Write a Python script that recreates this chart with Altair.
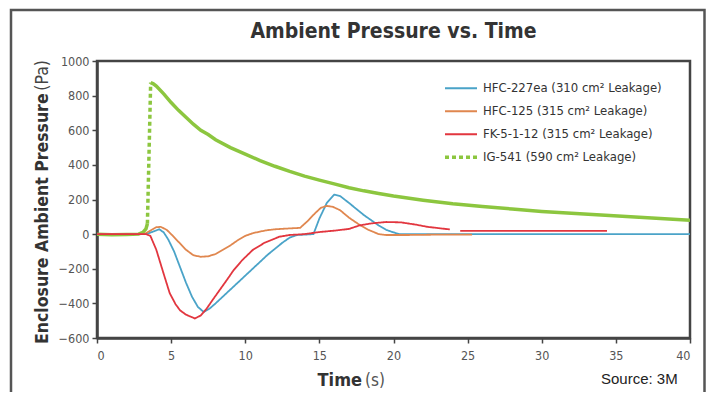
import altair as alt
import pandas as pd

# ---------------- data ----------------
series_names = [
    "HFC-227ea (310 cm² Leakage)",
    "HFC-125 (315 cm² Leakage)",
    "FK-5-1-12 (315 cm² Leakage)",
    "IG-541 (590 cm² Leakage)",
]
series_colors = ["#4aa3c8", "#e0874f", "#e2363f", "#8cc63f"]

hfc227_t = [0, 3.3, 3.8, 4.2, 4.5, 4.8, 5.2, 5.6, 6.0, 6.4, 6.8, 7.2, 7.6, 8.0, 8.5, 9.0, 9.5,
            10.0, 10.5, 11.0, 11.5, 12.0, 12.5, 13.0, 13.5, 14.6, 15.0, 15.5, 16.0, 16.4, 17.0,
            17.5, 18.0, 18.5, 19.0, 19.5, 20.0, 20.4, 30.0, 40.0]
hfc227_p = [0, 0, 15, 28, 10, -30, -100, -190, -280, -360, -420, -450, -430, -400, -360, -320, -280,
            -240, -200, -160, -120, -85, -50, -20, -5, 0, 90, 180, 228, 220, 180,
            145, 110, 80, 50, 25, 10, 0, 0, 0]

hfc125_t = [0, 3.2, 3.6, 4.0, 4.3, 4.7, 5.0, 5.5, 6.0, 6.5, 7.0, 7.5, 8.0, 8.5, 9.0, 9.5, 10.0,
            10.5, 11.0, 11.5, 12.0, 13.0, 13.7, 14.2, 14.7, 15.1, 15.5, 15.9, 16.4, 17.0, 17.6,
            18.3, 19.0, 19.5, 21.0, 23.0, 25.3]
hfc125_p = [0, 0, 20, 40, 42, 25, 0, -45, -90, -122, -131, -128, -115, -90, -65, -35, -10,
            5, 15, 23, 28, 33, 36, 75, 120, 152, 163, 158, 138, 95, 60,
            25, 0, -5, -5, -3, -3]

fk_t = [0, 3.3, 3.6, 4.0, 4.5, 4.9, 5.3, 5.6, 6.0, 6.6, 7.0, 7.4, 7.8, 8.3, 8.8, 9.2, 9.8,
        10.5, 11.3, 12.3, 13.0, 14.0, 15.0, 16.0, 17.0, 17.7, 18.5, 19.5, 20.5, 21.5, 22.3, 23.8]
fk_p = [0, 0, -10, -90, -230, -340, -405, -440, -465, -487, -470, -430, -380, -320, -260, -210, -150,
        -92, -50, -15, -5, 0, 12, 20, 30, 50, 62, 70, 68, 55, 42, 27]
fk_tail_t = [24.5, 34.4]
fk_tail_p = [19, 19]

ig_pre_t = [0, 1.0, 2.0, 2.8, 3.1, 3.3, 3.4]
ig_pre_p = [0, -3, -2, 0, 10, 30, 60]
ig_rise_t = [3.4, 3.62]
ig_rise_p = [60, 875]
ig_decay_t = [3.62, 3.8, 4.0, 4.5, 5.0, 5.5, 6.0, 6.5, 7.0, 7.5, 8.0, 9.0, 10.0, 11.0, 12.0, 13.0,
              14.0, 15.0, 16.0, 17.0, 18.0, 19.0, 20.0, 22.0, 24.0, 26.0, 28.0, 30.0, 32.0,
              34.0, 36.0, 38.0, 40.0]
ig_decay_p = [875, 868, 855, 810, 760, 715, 675, 635, 600, 575, 545, 500, 462, 425, 392, 362,
              335, 312, 290, 268, 250, 235, 220, 196, 175, 160, 145, 131, 120, 110, 100, 90, 80]

x_ticks = [0, 5, 10, 15, 20, 25, 30, 35, 40]
y_ticks = [-600, -400, -200, 0, 200, 400, 600, 800, 1000]

title_text = ["Ambient Pressure vs. Time"]
y_title_bold = ["Enclosure Ambient Pressure"]
y_title_unit = ["(Pa)"]
x_title_bold = ["Time"]
x_title_unit = ["(s)"]
source_text = ["Source: 3M"]

# ---------------- frames ----------------
def frame(ts, ps, name, seg):
    return pd.DataFrame({"t": ts, "p": ps, "series": name, "seg": seg})

legend_df = pd.concat([
    frame(hfc227_t, hfc227_p, series_names[0], "a"),
    frame(hfc125_t, hfc125_p, series_names[1], "a"),
    frame(fk_t, fk_p, series_names[2], "a"),
    frame(fk_tail_t, fk_tail_p, series_names[2], "b"),
    frame(ig_rise_t, ig_rise_p, series_names[3], "rise"),
], ignore_index=True)

green_solid_df = pd.concat([
    frame(ig_pre_t, ig_pre_p, series_names[3], "pre"),
    frame(ig_decay_t, ig_decay_p, series_names[3], "decay"),
], ignore_index=True)

NARROW = "DejaVu Sans Condensed, Liberation Sans Narrow, Arial Narrow, sans-serif"
W, H = 593, 277

xscale = alt.Scale(domain=[0, 40], nice=False, zero=False)
yscale = alt.Scale(domain=[-600, 1000], nice=False)
color_scale = alt.Scale(domain=series_names, range=series_colors)

x_enc = alt.X("t:Q", scale=xscale,
              axis=alt.Axis(values=x_ticks, title=None, grid=False, format="d"))
y_enc = alt.Y("p:Q", scale=yscale,
              axis=alt.Axis(values=y_ticks, title=None, grid=False, format="d"))

green_solid = alt.Chart(green_solid_df).mark_line(
    strokeWidth=3.5, clip=True, color=series_colors[3]).encode(
    x=x_enc, y=y_enc, detail="seg:N")

legend = alt.Legend(
    title=None, orient="none", legendX=346, legendY=16, padding=0,
    symbolType="stroke", symbolSize=1024, clipHeight=22.5,
    rowPadding=0, labelFont=NARROW, labelFontSize=13, labelLimit=400,
    labelColor="#333", labelOffset=4)

main_layer = alt.Chart(legend_df).mark_line(clip=True).encode(
    x=x_enc, y=y_enc,
    color=alt.Color("series:N", scale=color_scale, legend=legend),
    strokeDash=alt.StrokeDash("series:N",
                              scale=alt.Scale(domain=series_names,
                                              range=[[1, 0], [1, 0], [1, 0], [4, 3]]),
                              legend=legend),
    strokeWidth=alt.StrokeWidth("series:N",
                                scale=alt.Scale(type="ordinal", domain=series_names,
                                                range=[1.8, 1.8, 1.8, 3.5]),
                                legend=legend),
    detail="seg:N",
)

def text_layer(vals, **kw):
    pos = {k: kw.pop(k) for k in ["x", "y"]}
    return alt.Chart(pd.DataFrame({"label": vals})).mark_text(**kw).encode(
        x=alt.value(pos["x"]), y=alt.value(pos["y"]), text="label:N")

title_l = text_layer(title_text, x=W / 2, y=-29, font=NARROW, fontSize=21,
                     fontWeight="bold", color="#333", align="center", baseline="middle")
ytb = text_layer(y_title_bold, x=-54, y=283, font=NARROW, fontSize=17.5, fontWeight="bold",
                 color="#333", angle=270, align="left", baseline="middle")
ytu = text_layer(y_title_unit, x=-54, y=-1, font=NARROW, fontSize=17.5, color="#444",
                 angle=270, align="right", baseline="middle")
xtb = text_layer(x_title_bold, x=265, y=320, font=NARROW, fontSize=18, fontWeight="bold",
                 color="#333", align="right", baseline="middle")
xtu = text_layer(x_title_unit, x=268, y=320, font=NARROW, fontSize=17, color="#555",
                 align="left", baseline="middle")
src = text_layer(source_text, x=504, y=318, font="Liberation Sans, Arial, sans-serif",
                 fontSize=15, color="#222", align="left", baseline="middle")

outer = alt.Chart(pd.DataFrame({"k": [0]})).mark_rect(
    fill=None, stroke="#555", strokeWidth=2.5, clip=False).encode(
    x=alt.value(-86), x2=alt.value(607.5), y=alt.value(-51), y2=alt.value(H + 80))

chart = alt.layer(outer, green_solid, main_layer,
                  title_l, ytb, ytu, xtb, xtu, src).properties(
    width=W, height=H,
    autosize=alt.AutoSizeParams(type="none"),
    padding={"left": 89, "top": 53, "right": 17, "bottom": 54},
    background="white",
).configure_view(
    stroke="#444", strokeWidth=2.5,
).configure_axis(
    domainColor="#444", domainWidth=2.5, tickColor="#444", tickWidth=1.5, tickSize=5,
    labelFont=NARROW, labelFontSize=12.5, labelColor="#555", labelPadding=3,
).configure_axisX(labelPadding=6)

chart.save("out.html", embed_options={"renderer": "svg", "actions": False})
